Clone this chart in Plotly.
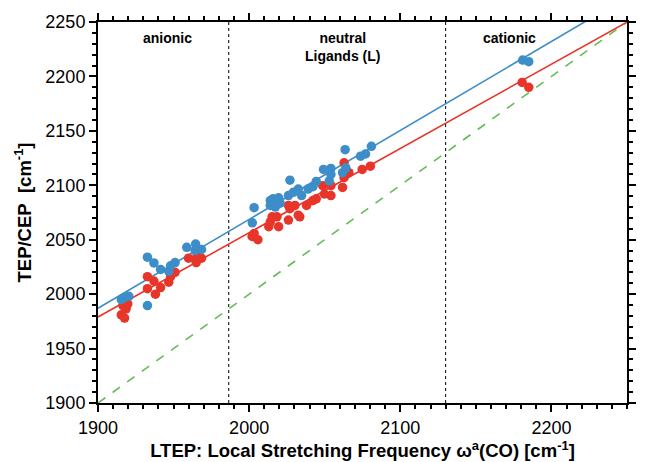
import plotly.graph_objects as go

# ---- data ----
ltep_blue = [1915.4, 1917.6, 1920.4, 1932.7, 1932.7, 1937.0, 1941.4, 1946.8, 1948.0, 1951.0,
             1958.7, 1964.6, 1968.5, 1964.2,
             2003.3, 2002.1, 2014.0, 2015.8, 2019.5, 2014.0, 2017.3, 2020.5, 2027.0, 2026.0,
             2029.2, 2032.5, 2034.7, 2039.0, 2042.2, 2044.4, 2049.2, 2054.1, 2054.1, 2053.0,
             2061.8, 2063.5, 2064.0, 2073.7, 2077.0, 2080.9,
             2181.0, 2185.0]
tep_blue = [1995.0, 1997.0, 1998.0, 2034.0, 1989.5, 2028.7, 2022.7, 2021.0, 2026.0, 2029.0,
            2043.0, 2046.0, 2041.0, 2040.0,
            2079.4, 2065.5, 2086.0, 2087.6, 2088.5, 2081.5, 2080.0, 2083.6, 2104.7, 2090.6,
            2093.5, 2096.5, 2090.6, 2096.5, 2098.7, 2103.5, 2114.6, 2115.5, 2110.0, 2104.0,
            2111.6, 2132.7, 2116.0, 2126.7, 2128.8, 2135.8,
            2215.0, 2213.5]

ltep_red = [1916.5, 1919.7, 1918.6, 1915.4, 1917.6, 1932.7, 1937.0, 1941.4, 1932.7, 1938.0,
            1946.8, 1948.0, 1951.0, 1959.9, 1965.0, 1968.5, 1965.0, 1966.0,
            2003.3, 2005.8, 2002.0, 2013.0, 2015.2, 2014.0, 2018.4, 2019.5, 2026.0, 2027.0,
            2030.3, 2032.5, 2038.0, 2044.4, 2033.5, 2048.7, 2054.1, 2054.1, 2061.8, 2062.8,
            2066.0, 2062.8, 2074.8, 2080.2, 2026.0, 2049.8, 2042.2,
            2180.6, 2185.0]
cep_red = [1989.5, 1991.0, 1986.5, 1981.0, 1978.0, 2016.0, 2012.0, 2006.0, 2005.0, 2000.0,
           2011.0, 2016.0, 2020.0, 2033.0, 2033.0, 2033.0, 2029.0, 2036.0,
           2055.8, 2050.0, 2053.0, 2062.0, 2071.0, 2066.4, 2071.0, 2062.0, 2068.0, 2078.5,
           2081.5, 2072.5, 2081.5, 2087.6, 2071.0, 2099.6, 2099.6, 2090.6, 2098.0, 2120.7,
           2111.6, 2107.0, 2114.6, 2117.6, 2081.5, 2092.0, 2086.0,
           2194.5, 2190.0]

# fitted lines: (intercept at 1900, slope)
fit_blue = (1987.0, 0.817)
fit_red = (1979.0, 0.774)
fit_x = [1900, 2250]
diag = [1900, 2250]

region_bounds = [1986.5, 2130.0]
region_labels = ["anionic", "neutral<br>Ligands (L)", "cationic"]
region_label_x = [1946, 2062, 2172]

BLUE = "#3d8ec8"
RED = "#e8352a"
GREEN = "#62bd55"
FONT = "Liberation Sans, Arial, Helvetica, sans-serif"

fig = go.Figure()

fig.add_trace(go.Scatter(x=diag, y=diag, mode="lines",
                         line=dict(color=GREEN, width=1.6, dash="dash"), showlegend=False))
fig.add_trace(go.Scatter(x=fit_x, y=[fit_red[0] + fit_red[1] * (x - 1900) for x in fit_x],
                         mode="lines", line=dict(color=RED, width=1.6), showlegend=False))
fig.add_trace(go.Scatter(x=fit_x, y=[fit_blue[0] + fit_blue[1] * (x - 1900) for x in fit_x],
                         mode="lines", line=dict(color=BLUE, width=1.6), showlegend=False))
fig.add_trace(go.Scatter(x=ltep_red, y=cep_red, mode="markers",
                         marker=dict(color=RED, size=9.5, line=dict(width=0)), showlegend=False))
fig.add_trace(go.Scatter(x=ltep_blue, y=tep_blue, mode="markers",
                         marker=dict(color=BLUE, size=9.5, line=dict(width=0)), showlegend=False))

for xb in region_bounds:
    fig.add_shape(type="line", xref="x", yref="paper", x0=xb, x1=xb, y0=0, y1=1,
                  line=dict(color="black", width=1, dash="dot"), layer="below")

for txt, xl in zip(region_labels, region_label_x):
    fig.add_annotation(x=xl, y=1, xref="x", yref="paper", yanchor="top", yshift=-6,
                       text=txt, showarrow=False,
                       font=dict(family=FONT, size=14, color="black", weight="bold"),
                       align="center")

axis_common = dict(
    showline=True, linecolor="black", linewidth=2, mirror="ticks",
    ticks="outside", ticklen=7, tickwidth=2, tickcolor="black",
    showgrid=False, zeroline=False,
    tickfont=dict(family=FONT, size=18, color="black"),
    minor=dict(ticks="outside", ticklen=4, tickwidth=1.5, tickcolor="black", dtick=10,
               showgrid=False),
)

fig.update_xaxes(range=[1900, 2250], dtick=100, tick0=1900,
                 title=dict(text="LTEP: Local Stretching Frequency ω<sup>a</sup>(CO) [cm<sup>-1</sup>]",
                            font=dict(family=FONT, size=18.5, color="black", weight="bold"),
                            standoff=2),
                 **axis_common)
fig.update_yaxes(range=[1900, 2250], dtick=50, tick0=1900,
                 title=dict(text="TEP/CEP\u00a0\u00a0[cm<sup>-1</sup>]",
                            font=dict(family=FONT, size=18.5, color="black", weight="bold"),
                            standoff=9),
                 **axis_common)

fig.update_layout(
    width=645, height=462,
    margin=dict(l=98, r=9, t=22, b=53),
    plot_bgcolor="white", paper_bgcolor="white",
    showlegend=False,
)

fig.write_html("out.html")
